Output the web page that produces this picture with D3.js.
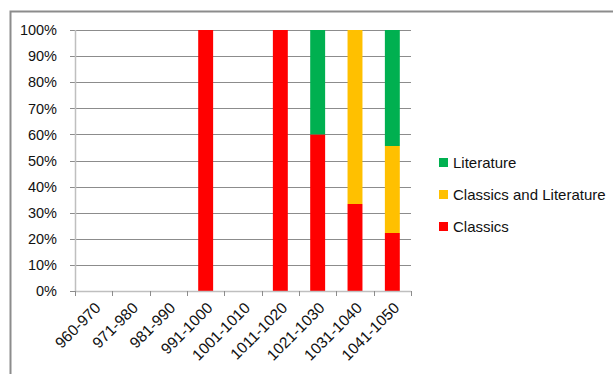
<!DOCTYPE html>
<html>
<head>
<meta charset="utf-8">
<script src="https://cdn.jsdelivr.net/npm/d3@7"></script>
<style>
  body { margin: 0; background: #fff; }
  svg text { font-family: "Liberation Sans", Arial, sans-serif; fill: #111; }
</style>
</head>
<body>
<div id="chart"></div>
<script>
// Decades on the x axis
const periods = ['960-970', '971-980', '981-990', '991-1000', '1001-1010',
                 '1011-1020', '1021-1030', '1031-1040', '1041-1050'];

// Share of each subject per period (fractions)
const classics    = [0, 0, 0, 1, 0, 1, 0.6, 1/3, 2/9];
const classicsLit = [0, 0, 0, 0, 0, 0, 0, 2/3, 3/9];
const literature  = [0, 0, 0, 0, 0, 0, 0.4, 0, 4/9];

const seriesNames = ['Classics', 'Classics and Literature', 'Literature'];
const seriesColors = ['#ff0000', '#ffc000', '#00b050'];
const yTicks = [0, 0.1, 0.2, 0.3, 0.4, 0.5, 0.6, 0.7, 0.8, 0.9, 1];

function plot() {
  const W = 613, H = 374;
  const margin = {top: 30, left: 75, right: 202, bottom: 83};
  const width = W - margin.left - margin.right,
        height = H - margin.top - margin.bottom;

  const svg = d3.select('#chart').append('svg')
    .attr('width', W).attr('height', H);

  // Chart frame (only top and left edges visible)
  svg.append('path')
    .attr('d', `M10.5,${H} L10.5,11.5 L${W},11.5`)
    .attr('fill', 'none').attr('stroke', '#8c8c8c').attr('stroke-width', 2);

  const g = svg.append('g')
    .attr('transform', `translate(${margin.left},${margin.top})`);

  const x = d3.scaleBand().domain(periods).range([0, width]).paddingInner(0.6).paddingOuter(0.3);
  const xEdge = d3.scaleLinear().domain([0, periods.length]).range([0, width]);
  const y = d3.scaleLinear().domain([0, 1]).range([height, 0]);

  // Gridlines
  g.append('g').selectAll('line').data(yTicks).enter().append('line')
    .attr('x1', 0).attr('x2', width)
    .attr('y1', d => Math.round(y(d)) + 0.5).attr('y2', d => Math.round(y(d)) + 0.5)
    .attr('stroke', '#8c8c8c').attr('stroke-width', 1);

  // Y axis labels + small ticks
  g.append('g').selectAll('text').data(yTicks).enter().append('text')
    .attr('x', -18).attr('y', d => y(d)).attr('dy', '0.36em')
    .attr('text-anchor', 'end').style('font-size', '14.5px')
    .text(d => d3.format('.0%')(d));
  g.append('g').selectAll('line').data(yTicks).enter().append('line')
    .attr('x1', -5).attr('x2', 0)
    .attr('y1', d => Math.round(y(d)) + 0.5).attr('y2', d => Math.round(y(d)) + 0.5)
    .attr('stroke', '#8c8c8c');
  g.append('line').attr('x1', 0.5).attr('x2', 0.5).attr('y1', 0).attr('y2', height)
    .attr('stroke', '#bfbfbf').attr('stroke-width', 1.5);

  // Stacked bars
  const rows = periods.map((p, i) => ({
    period: p, 'Classics': classics[i],
    'Classics and Literature': classicsLit[i], 'Literature': literature[i]
  }));
  const stack = d3.stack().keys(seriesNames)(rows);
  g.append('g').selectAll('g').data(stack).enter().append('g')
    .attr('fill', (d, i) => seriesColors[i])
    .selectAll('rect').data(d => d).enter().append('rect')
      .attr('x', d => x(d.data.period))
      .attr('width', x.bandwidth())
      .attr('y', d => y(d[1]))
      .attr('height', d => y(d[0]) - y(d[1]));

  // X axis
  g.append('line').attr('x1', 0).attr('x2', width)
    .attr('y1', height + 0.5).attr('y2', height + 0.5)
    .attr('stroke', '#bfbfbf').attr('stroke-width', 1.5);
  g.append('g').selectAll('line').data(d3.range(periods.length + 1)).enter().append('line')
    .attr('x1', d => Math.round(xEdge(d)) + 0.5).attr('x2', d => Math.round(xEdge(d)) + 0.5)
    .attr('y1', height).attr('y2', height + 5)
    .attr('stroke', '#8c8c8c');
  g.append('g').selectAll('text').data(periods).enter().append('text')
    .attr('text-anchor', 'end').style('font-size', '15.5px')
    .attr('transform', d => `translate(${x(d) + x.bandwidth() / 2 + 8},${height + 18}) rotate(-45)`)
    .text(d => d);

  // Legend
  const legend = svg.append('g').attr('transform', 'translate(439,163)');
  const order = [2, 1, 0];
  order.forEach((s, i) => {
    const row = legend.append('g').attr('transform', `translate(0,${i * 32})`);
    row.append('rect').attr('x', 0).attr('y', -5).attr('width', 9).attr('height', 9)
      .attr('fill', seriesColors[s]);
    row.append('text').attr('x', 14).attr('y', 0).attr('dy', '0.36em')
      .style('font-size', '15px').text(seriesNames[s]);
  });
}

plot();
</script>
</body>
</html>
